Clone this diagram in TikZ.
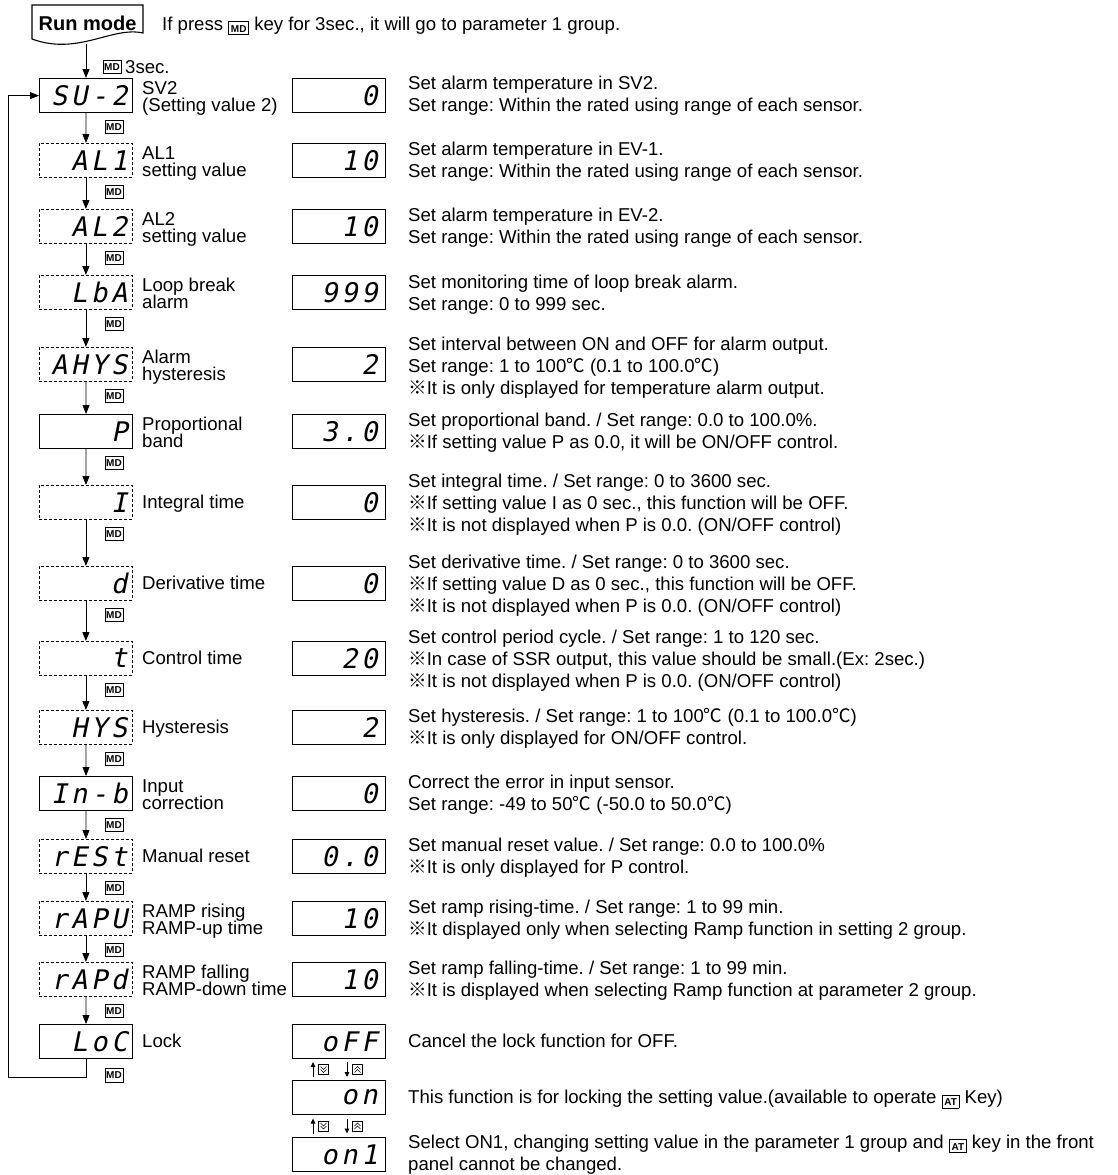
\documentclass[tikz,border=0pt]{standalone}
\usepackage{fontspec}
\setmainfont{Liberation Sans}
\newfontfamily\segfont[FakeSlant=0.2,LetterSpace=14]{DejaVu Sans Mono}
\newfontfamily\cjkf{Noto Sans CJK JP}
\usetikzlibrary{arrows.meta}
\frenchspacing
\newcommand\refm{{\cjkf ※}}
\newcommand\degc{{\cjkf ℃}}
\newcommand\keyb[1]{{\setlength\fboxsep{1.8pt}\setlength\fboxrule{0.8pt}\raisebox{-2.2pt}{\fbox{\fontsize{10}{10}\selectfont\bfseries\rule[-0.3pt]{0pt}{8.5pt}#1}}}}
\tikzset{
  txt/.style={font=\fontsize{18.6}{22}\selectfont, inner sep=0pt, anchor=base west},
  segS/.style={draw, line width=1.2pt, minimum height=34pt, inner xsep=5pt, inner ysep=0pt,
    text width=83pt, align=right, font=\segfont\fontsize{27}{27}\selectfont, anchor=north west},
  segD/.style={segS, line width=0.8pt, dash pattern=on 3pt off 2pt},
  valbox/.style={segS, inner xsep=8pt, text width=77pt},
  mdk/.style={draw, line width=0.8pt, minimum width=18pt, minimum height=13.5pt, inner sep=0pt,
    font=\fontsize{10}{10}\selectfont\bfseries},
  arr/.style={line width=0.8pt, -{Triangle[length=9pt,width=7pt]}},
  uarr/.style={line width=0.9pt, -{Triangle[length=5pt,width=4.5pt]}},
  kicon/.style={draw, line width=0.6pt, minimum size=10pt, inner sep=0pt},
  chev/.style={line width=0.5pt},
}
% row: name, top, style, glyph, value
\newcommand\prow[5]{%
  \node[#3] (b#1) at (39,#2) {#4};
  \node[valbox] (v#1) at (292,#2) {#5};
  \node[mdk] (m#1) at (114,#2+49) {MD};}
\newcommand\labi[3]{\node[txt] (l#1) at (142,#2+6.5) {#3};}
\newcommand\labii[4]{\node[txt] (l#1a) at (142,#2-1) {#3};\node[txt] (l#1b) at (142,#2+16.5) {#4};}
\newcommand\desci[3]{\node[txt] (d#1a) at (408,#2+6.5) {#3};}
\newcommand\descii[4]{\node[txt] (d#1a) at (408,#2-4.5) {#3};\node[txt] (d#1b) at (408,#2+17.5) {#4};}
\newcommand\desciii[5]{\node[txt] (d#1a) at (408,#2-15.5) {#3};\node[txt] (d#1b) at (408,#2+6.5) {#4};\node[txt] (d#1c) at (408,#2+28.5) {#5};}
\newcommand\udkeys[2]{%
  \coordinate (#1ua) at (313,#2+7.5);
  \coordinate (#1ub) at (313,#2-7.5);
  \draw[uarr] (#1ua) -- (#1ub);
  \node[kicon] (#1ka) at (323.5,#2) {};
  \draw[chev] (320.5,#2-3) -- (323.5,#2) -- (326.5,#2-3) (320.5,#2) -- (323.5,#2+3) -- (326.5,#2);
  \coordinate (#1da) at (347,#2-7.5);
  \coordinate (#1db) at (347,#2+7.5);
  \draw[uarr] (#1da) -- (#1db);
  \node[kicon] (#1kb) at (357.5,#2) {};
  \draw[chev] (354.5,#2) -- (357.5,#2-3) -- (360.5,#2) (354.5,#2+3) -- (357.5,#2) -- (360.5,#2+3);}
\begin{document}
\begin{tikzpicture}[x=1pt,y=-1pt]
\useasboundingbox (0,0) rectangle (1118,1175);
% run mode
\draw[line width=1.1pt] (32,5) -- (143,5) -- (143,33) .. controls (112,26) and (78,56) .. (32,39) -- cycle;
\node[font=\fontsize{20}{22}\selectfont\bfseries, inner sep=0pt, anchor=base] (run) at (87.5,30) {Run mode};
\coordinate (runb) at (86,44);
\node[txt] (topt) at (162,30) {If press \keyb{MD} key for 3sec., it will go to parameter 1 group.};
\node[mdk] (m0) at (112,67) {MD};
\node[txt] (s3) at (125,73) {3sec.};
% rows
\prow{SU}{78}{segS}{SU-2}{0}
\prow{ALa}{143}{segD}{AL1}{10}
\prow{ALb}{209}{segD}{AL2}{10}
\prow{LbA}{275}{segD}{LbA}{999}
\prow{AHYS}{347}{segD}{AHYS}{2}
\prow{P}{414}{segS}{P}{3.0}
\prow{I}{485}{segD}{I}{0}
\prow{d}{566}{segD}{d}{0}
\prow{t}{641}{segD}{t}{20}
\prow{HYS}{710}{segD}{HYS}{2}
\prow{Inb}{776}{segS}{In-b}{0}
\prow{rESt}{839}{segD}{rESt}{0.0}
\prow{rAPU}{901}{segD}{rAPU}{10}
\prow{rAPd}{962}{segD}{rAPd}{10}
\node[segS] (bLoC) at (39,1024) {LoC};
\node[valbox] (vLoC) at (292,1024) {oFF};
\node[valbox] (von) at (292,1080) {on};
\node[valbox] (vonb) at (292,1137) {on1};
\node[mdk] (mLoC) at (114,1075.5) {MD};
% arrows
\draw[arr] (runb) -- (runb |- bSU.north);
\draw[arr] (bSU) -- (bALa);
\draw[arr] (bALa) -- (bALb);
\draw[arr] (bALb) -- (bLbA);
\draw[arr] (bLbA) -- (bAHYS);
\draw[arr] (bAHYS) -- (bP);
\draw[arr] (bP) -- (bI);
\draw[arr] (bI) -- (bd);
\draw[arr] (bd) -- (bt);
\draw[arr] (bt) -- (bHYS);
\draw[arr] (bHYS) -- (bInb);
\draw[arr] (bInb) -- (brESt);
\draw[arr] (brESt) -- (brAPU);
\draw[arr] (brAPU) -- (brAPd);
\draw[arr] (brAPd) -- (bLoC);
\coordinate (lc) at (8,1077);
\draw[arr] (bLoC.south) |- (lc) |- (bSU.west);
% labels
\labii{SU}{95}{SV2}{(Setting value 2)}
\labii{ALa}{160}{AL1}{setting value}
\labii{ALb}{226}{AL2}{setting value}
\labii{LbA}{292}{Loop break}{alarm}
\labii{AHYS}{364}{Alarm}{hysteresis}
\labii{P}{431}{Proportional}{band}
\labi{I}{502}{Integral time}
\labi{d}{583}{Derivative time}
\labi{t}{658}{Control time}
\labi{HYS}{727}{Hysteresis}
\labii{Inb}{793}{Input}{correction}
\labi{rESt}{856}{Manual reset}
\labii{rAPU}{918}{RAMP rising}{RAMP-up time}
\labii{rAPd}{979}{RAMP falling}{RAMP-down time}
\labi{LoC}{1041}{Lock}
% descriptions
\descii{SU}{94}{Set alarm temperature in SV2.}{Set range: Within the rated using range of each sensor.}
\descii{ALa}{160}{Set alarm temperature in EV-1.}{Set range: Within the rated using range of each sensor.}
\descii{ALb}{226}{Set alarm temperature in EV-2.}{Set range: Within the rated using range of each sensor.}
\descii{LbA}{293}{Set monitoring time of loop break alarm.}{Set range: 0 to 999 sec.}
\desciii{AHYS}{366}{Set interval between ON and OFF for alarm output.}{Set range: 1 to 100\degc{} (0.1 to 100.0\degc)}{\refm It is only displayed for temperature alarm output.}
\descii{P}{431}{Set proportional band. / Set range: 0.0 to 100.0\%.}{\refm If setting value P as 0.0, it will be ON/OFF control.}
\desciii{I}{503}{Set integral time. / Set range: 0 to 3600 sec.}{\refm If setting value I as 0 sec., this function will be OFF.}{\refm It is not displayed when P is 0.0. (ON/OFF control)}
\desciii{d}{584}{Set derivative time. / Set range: 0 to 3600 sec.}{\refm If setting value D as 0 sec., this function will be OFF.}{\refm It is not displayed when P is 0.0. (ON/OFF control)}
\desciii{t}{659}{Set control period cycle. / Set range: 1 to 120 sec.}{\refm In case of SSR output, this value should be small.(Ex: 2sec.)}{\refm It is not displayed when P is 0.0. (ON/OFF control)}
\descii{HYS}{727}{Set hysteresis. / Set range: 1 to 100\degc{} (0.1 to 100.0\degc)}{\refm It is only displayed for ON/OFF control.}
\descii{Inb}{793}{Correct the error in input sensor.}{Set range: -49 to 50\degc{} (-50.0 to 50.0\degc)}
\descii{rESt}{856}{Set manual reset value. / Set range: 0.0 to 100.0\%}{\refm It is only displayed for P control.}
\descii{rAPU}{918}{Set ramp rising-time. / Set range: 1 to 99 min.}{\refm It displayed only when selecting Ramp function in setting 2 group.}
\descii{rAPd}{979}{Set ramp falling-time. / Set range: 1 to 99 min.}{\refm It is displayed when selecting Ramp function at parameter 2 group.}
\desci{LoC}{1041}{Cancel the lock function for OFF.}
\desci{on}{1097}{This function is for locking the setting value.(available to operate \keyb{AT} Key)}
\node[txt] (donba) at (408,1148) {Select ON1, changing setting value in the parameter 1 group and \keyb{AT} key in the front};
\node[txt] (donbb) at (408,1170) {panel cannot be changed.};
% up/down keys
\udkeys{ua}{1069.5}
\udkeys{ub}{1126}
\end{tikzpicture}
\end{document}
